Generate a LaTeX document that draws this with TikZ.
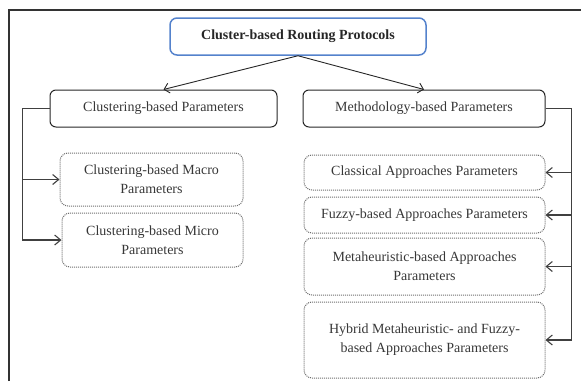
\documentclass[tikz,border=0pt]{standalone}
\usepackage{fontspec}
\setmainfont{Liberation Serif}
\usetikzlibrary{arrows.meta}
\definecolor{rootblue}{RGB}{84,130,204}
\definecolor{inkgray}{RGB}{55,55,55}
\definecolor{dotgray}{RGB}{110,110,110}
\begin{document}
\begin{tikzpicture}[x=1pt,y=-1pt,
  boxfont/.style={font=\fontsize{14}{19}\selectfont, text=inkgray, align=center, inner sep=0pt},
  rootbox/.style={boxfont, draw=rootblue, line width=1.5pt, rounded corners=7pt, font=\fontsize{14}{19}\selectfont\bfseries, text=black!85},
  mainbox/.style={boxfont, draw=black!85, line width=1pt, rounded corners=6pt},
  subbox/.style={boxfont, draw=dotgray, densely dotted, line width=1pt, rounded corners=8pt},
  link/.style={draw=black!85, line width=0.9pt, -{Straight Barb[length=5pt,width=10pt]}},
  bracket/.style={draw=black!75, line width=1.4pt},
  barb/.style={-{Straight Barb[length=6pt,width=10pt,line width=1.1pt]}}
]
\useasboundingbox (0,0) rectangle (581,381);

% outer frame (only its top and left edges lie inside the picture)
\coordinate (fbl) at (9,381);
\coordinate (ftl) at (9,10);
\coordinate (ftr) at (581,10);
\draw[black!80, line width=1.2pt] (fbl) -- (ftl) -- (ftr);

% root
\node[rootbox, minimum width=256pt, minimum height=37pt] (root) at (298,36.5) {Cluster-based Routing Protocols};

% first level
\node[mainbox, minimum width=227pt, minimum height=37pt] (clust) at (163.5,108.5) {Clustering-based Parameters};
\node[mainbox, minimum width=242pt, minimum height=37pt] (meth) at (424,108.5) {Methodology-based Parameters};

\draw[link] (root.south) -- (clust.north);
\draw[link] (root.south) -- (meth.north);

% clustering-based branch
\node[subbox, minimum width=183pt, minimum height=53pt] (macro) at (151.5,179.5) {Clustering-based Macro\\Parameters};
\node[subbox, minimum width=181pt, minimum height=54pt] (micro) at (152.5,240) {Clustering-based Micro\\Parameters};

\draw[bracket, barb] (clust.west) -- ++(-27,0) |- (macro.west);
\draw[bracket, barb] (clust.west) -- ++(-27,0) |- (micro.west);

% methodology-based branch
\node[subbox, minimum width=241pt, minimum height=35pt] (classic) at (424.5,172.5) {Classical Approaches Parameters};
\node[subbox, minimum width=241pt, minimum height=36pt] (fuzzy) at (424.5,215) {Fuzzy-based Approaches Parameters};
\node[subbox, minimum width=241pt, minimum height=57pt] (meta) at (424.5,266.5) {Metaheuristic-based Approaches\\Parameters};
\node[subbox, minimum width=241pt, minimum height=76pt] (hybrid) at (424.5,340) {Hybrid Metaheuristic- and Fuzzy-\\based Approaches Parameters};

\draw[bracket, barb] (meth.east) -- ++(26,0) |- (classic.east);
\draw[bracket, barb] (meth.east) -- ++(26,0) |- (fuzzy.east);
\draw[bracket, barb] (meth.east) -- ++(26,0) |- (meta.east);
\draw[bracket, barb] (meth.east) -- ++(26,0) |- (hybrid.east);
\end{tikzpicture}
\end{document}
